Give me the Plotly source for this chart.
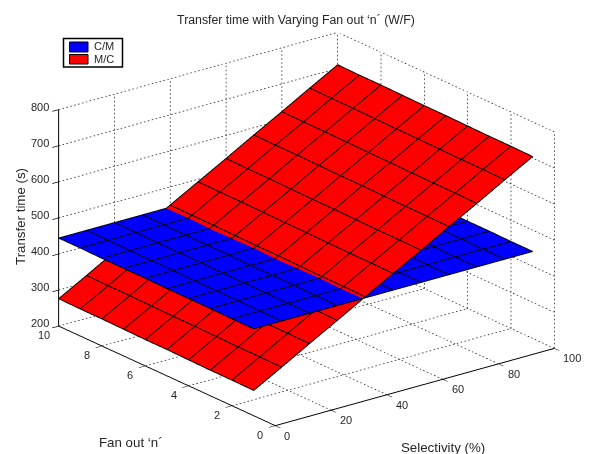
import plotly.graph_objects as go

selectivity = [0, 10, 20, 30, 40, 50, 60, 70, 80, 90, 100]
fan_out = [1, 2, 3, 4, 5, 6, 7, 8, 9, 10]
cm_time = [
    [440, 440, 440, 440, 440, 440, 440, 440, 440, 440, 440],
    [440, 440, 440, 440, 440, 440, 440, 440, 440, 440, 440],
    [441, 441, 441, 441, 441, 441, 441, 441, 441, 441, 441],
    [441, 441, 441, 441, 441, 441, 441, 441, 441, 441, 441],
    [441, 441, 441, 441, 441, 441, 441, 441, 441, 441, 441],
    [442, 442, 442, 442, 442, 442, 442, 442, 442, 442, 442],
    [442, 442, 442, 442, 442, 442, 442, 442, 442, 442, 442],
    [442, 442, 442, 442, 442, 442, 442, 442, 442, 442, 442],
    [443, 443, 443, 443, 443, 443, 443, 443, 443, 443, 443],
    [443, 443, 443, 443, 443, 443, 443, 443, 443, 443, 443],
]
mc_time = [
    [269, 312, 356, 399, 443, 486, 529, 573, 616, 660, 703],
    [270, 313, 357, 400, 444, 487, 530, 574, 617, 661, 704],
    [270, 313, 357, 400, 444, 487, 530, 574, 617, 661, 704],
    [271, 314, 358, 401, 445, 488, 531, 575, 618, 662, 705],
    [272, 315, 359, 402, 446, 489, 532, 576, 619, 663, 706],
    [272, 315, 359, 402, 446, 489, 532, 576, 619, 663, 706],
    [273, 316, 360, 403, 447, 490, 533, 577, 620, 664, 707],
    [274, 317, 361, 404, 448, 491, 534, 578, 621, 665, 708],
    [274, 317, 361, 404, 448, 491, 534, 578, 621, 665, 708],
    [275, 318, 362, 405, 449, 492, 535, 579, 622, 666, 709],
]
sel_ticks = [0, 20, 40, 60, 80, 100]
fan_ticks = [0, 2, 4, 6, 8, 10]
time_ticks = [200, 300, 400, 500, 600, 700, 800]
series_names = ["C/M", "M/C"]
series_colors = ["#0000ff", "#ff0000"]
FONT = "Liberation Sans, Arial, sans-serif"
INK = "#262626"
LIFT = 1.0


def surface(z, color, name):
    return go.Surface(
        x=selectivity, y=fan_out, z=z, name=name,
        colorscale=[[0, color], [1, color]], showscale=False, hoverinfo="skip",
        lighting=dict(ambient=1, diffuse=0, specular=0, roughness=1, fresnel=0),
    )


def mesh_lines(z):
    """Black cell edges of a surface, traced along its own rows and columns."""
    ex, ey, ez = [], [], []
    for j, f in enumerate(fan_out):
        for i, s in enumerate(selectivity):
            ex.append(s); ey.append(f); ez.append(z[j][i] + LIFT)
        ex.append(None); ey.append(None); ez.append(None)
    for i, s in enumerate(selectivity):
        for j, f in enumerate(fan_out):
            ex.append(s); ey.append(f); ez.append(z[j][i] + LIFT)
        ex.append(None); ey.append(None); ez.append(None)
    return go.Scatter3d(x=ex, y=ey, z=ez, mode="lines", hoverinfo="skip", showlegend=False,
                        line=dict(color="black", width=2))


# Dotted grid on the floor and the two back walls: short pieces along each tick line.
gx, gy, gz = [], [], []
xmin, xmax, ymin, ymax, zmin, zmax = sel_ticks[0], sel_ticks[-1], fan_ticks[0], fan_ticks[-1], time_ticks[0], time_ticks[-1]
def seg(a, b, dots):
    for i in range(dots):
        t0, t1 = i / dots, (i + 0.4) / dots
        for t in (t0, t1):
            gx.append(a[0] + (b[0] - a[0]) * t)
            gy.append(a[1] + (b[1] - a[1]) * t)
            gz.append(a[2] + (b[2] - a[2]) * t)
        gx.append(None); gy.append(None); gz.append(None)
for s in sel_ticks:
    seg((s, ymin, zmin), (s, ymax, zmin), 60)
    seg((s, ymax, zmin), (s, ymax, zmax), 54)
for f in fan_ticks:
    seg((xmin, f, zmin), (xmax, f, zmin), 72)
    seg((xmax, f, zmin), (xmax, f, zmax), 54)
for t in time_ticks:
    seg((xmin, ymax, t), (xmax, ymax, t), 72)
    seg((xmax, ymin, t), (xmax, ymax, t), 60)
grid = go.Scatter3d(x=gx, y=gy, z=gz, mode="lines", hoverinfo="skip", showlegend=False,
                    line=dict(color="#222222", width=1.5))

fig = go.Figure([grid,
                 surface(cm_time, series_colors[0], series_names[0]), mesh_lines(cm_time),
                 surface(mc_time, series_colors[1], series_names[1]), mesh_lines(mc_time)])

def axis(rng, ticks):
    return dict(range=rng, tickmode="array", tickvals=ticks, showticklabels=False,
                showgrid=False, zeroline=False, showbackground=False, showspikes=False,
                showline=True, linecolor="black", linewidth=2,
                ticks="outside", ticklen=8, tickcolor="black", tickwidth=1.5,
                title=dict(text=""))

def tick_note(x, y, z, text, anchor, dx, dy):
    return dict(x=x, y=y, z=z, text=text, showarrow=False, xanchor=anchor, yanchor="middle",
                xshift=dx, yshift=dy, font=dict(family=FONT, size=11, color=INK))

notes = []
for s in sel_ticks:
    notes.append(tick_note(s, ymin, zmin, str(s), "left", 7, -10))
for f in fan_ticks:
    notes.append(tick_note(xmin, f, zmin, str(f), "center", -15, -9))
for t in time_ticks:
    notes.append(tick_note(xmin, ymax, t, str(t), "right", -8, 3))

R = 1.27
S = 1.57
fig.update_layout(
    width=593, height=454, margin=dict(l=0, r=0, t=0, b=0),
    paper_bgcolor="white", plot_bgcolor="white", showlegend=False,
    font=dict(family=FONT, color=INK),
    scene=dict(
        domain=dict(x=[0.034, 1], y=[0, 0.991]),
        xaxis=axis([xmin, xmax], sel_ticks),
        yaxis=axis([ymin, ymax], fan_ticks),
        zaxis=axis([zmin, zmax], time_ticks),
        annotations=notes,
        aspectmode="manual", aspectratio=dict(x=S, y=S, z=0.656 * S),
        camera=dict(projection=dict(type="orthographic"),
                    up=dict(x=0, y=0, z=1), center=dict(x=0, y=0, z=0),
                    eye=dict(x=-0.573 * R, y=-0.738 * R, z=0.357 * R)),
    ),
    title=dict(text="Transfer time with Varying Fan out ‘n´ (W/F)", x=296 / 593, xanchor="center",
               y=1 - 20 / 454, yanchor="middle", font=dict(family=FONT, size=12.3, color=INK)),
)

def px(x):
    return x / 593
def py(y):
    return 1 - y / 454
def rect(x0, y0, x1, y1, fill, lw):
    fig.add_shape(type="rect", xref="paper", yref="paper", x0=px(x0), x1=px(x1), y0=py(y0), y1=py(y1),
                  fillcolor=fill, line=dict(color="black", width=lw))
def label(x, y, text, anchor="center", angle=0, size=13.3):
    fig.add_annotation(xref="paper", yref="paper", x=px(x), y=py(y), text=text, showarrow=False,
                       xanchor=anchor, yanchor="middle", textangle=angle,
                       font=dict(family=FONT, size=size, color=INK))

rect(63.5, 38.5, 122.5, 67, "white", 1.5)
rect(69.5, 42, 88, 52, series_colors[0], 1)
rect(69.5, 54.5, 88, 64, series_colors[1], 1)
label(92, 46.5, series_names[0], "left", size=11)
label(92, 59, series_names[1], "left", size=11)
label(130.5, 442, "Fan out ‘n´")
label(443, 447, "Selectivity (%)")
label(20, 217, "Transfer time (s)", angle=-90)

fig.write_html("out.html", config={"displayModeBar": False}, post_script="document.body.style.margin='0';")
